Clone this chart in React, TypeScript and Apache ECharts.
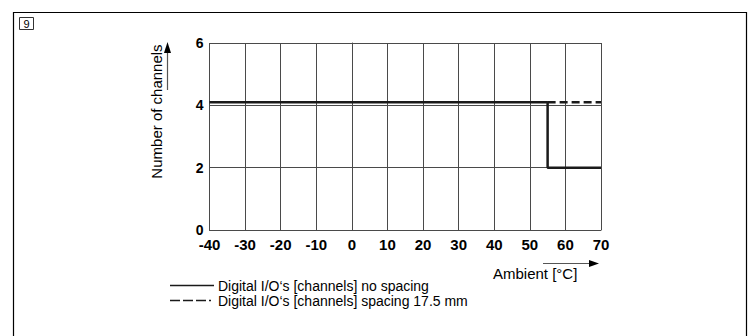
import React, { useEffect, useRef } from "react";
import * as echarts from "echarts";

// Ambient temperature ticks (°C) and channel ticks
const tempTicks = [-40, -30, -20, -10, 0, 10, 20, 30, 40, 50, 60, 70];
const channelTicks = [0, 2, 4, 6];

// Derating curves: [temperature °C, channels]
const noSpacing: [number, number][] = [
  [-40, 4.1],
  [55, 4.1],
  [55, 2],
  [70, 2],
];
const spacing175: [number, number][] = [
  [55, 4.1],
  [70, 4.1],
];

const legendLabels = [
  "Digital I/O‘s [channels] no spacing",
  "Digital I/O‘s [channels] spacing 17.5 mm",
];

const FONT = "'Liberation Sans', Arial, Helvetica, sans-serif";
const INK = "#1a1a1a";
const GRID = "#4a4a4a";

export default function App() {
  const ref = useRef<HTMLDivElement>(null);

  useEffect(() => {
    if (!ref.current) return;
    const chart = echarts.init(ref.current, undefined, { renderer: "svg" });

    const axisText = {
      color: "#000",
      fontFamily: FONT,
      fontWeight: "bold" as const,
    };

    chart.setOption({
      animation: false,
      backgroundColor: "#fff",
      grid: { left: 209.5, top: 43, right: 147, bottom: 106, containLabel: false },
      xAxis: {
        type: "value",
        min: tempTicks[0],
        max: tempTicks[tempTicks.length - 1],
        interval: 10,
        axisLine: { show: true, lineStyle: { color: GRID, width: 1 } },
        axisTick: { show: false },
        splitLine: { show: true, lineStyle: { color: GRID, width: 1 } },
        axisLabel: { ...axisText, fontSize: 15, margin: 7 },
      },
      yAxis: {
        type: "value",
        min: channelTicks[0],
        max: channelTicks[channelTicks.length - 1],
        interval: 2,
        axisLine: { show: true, lineStyle: { color: GRID, width: 1 } },
        axisTick: { show: false },
        splitLine: { show: true, lineStyle: { color: GRID, width: 1 } },
        axisLabel: { ...axisText, fontSize: 14, margin: 6, lineHeight: 13 },
      },
      series: [
        {
          type: "line",
          data: noSpacing,
          symbol: "none",
          lineStyle: { color: INK, width: 2.5 },
          z: 5,
        },
        {
          type: "line",
          data: spacing175,
          symbol: "none",
          lineStyle: { color: INK, width: 2.5, type: [8, 4] },
          z: 4,
        },
      ],
      graphic: [
        // outer frame
        {
          type: "polyline",
          shape: { points: [[13.5, 340], [13.5, 12.5], [746.5, 12.5], [746.5, 340]] },
          style: { stroke: "#000", lineWidth: 1.2, fill: "none" },
        },
        // figure number box
        {
          type: "rect",
          shape: { x: 19.5, y: 17.5, width: 14, height: 12 },
          style: { stroke: "#333", lineWidth: 1, fill: "#fff" },
        },
        {
          type: "text",
          x: 26.5,
          y: 24,
          style: {
            text: "9",
            fontFamily: FONT,
            fontSize: 11,
            fill: "#000",
            align: "center",
            verticalAlign: "middle",
          },
        },
        // y-axis title with arrow
        {
          type: "text",
          x: 156,
          y: 111.5,
          rotation: Math.PI / 2,
          style: {
            text: "Number of channels",
            fontFamily: FONT,
            fontSize: 15,
            fill: "#000",
            align: "center",
            verticalAlign: "middle",
          },
        },
        {
          type: "line",
          shape: { x1: 167.5, y1: 90, x2: 167.5, y2: 52 },
          style: { stroke: "#555", lineWidth: 1.2 },
        },
        {
          type: "polygon",
          shape: { points: [[164, 53], [171, 53], [167.5, 42]] },
          style: { fill: "#000" },
        },
        // x-axis title with arrow
        {
          type: "text",
          x: 493,
          y: 273,
          style: {
            text: "Ambient [°C]",
            fontFamily: FONT,
            fontSize: 15,
            fill: "#000",
            align: "left",
            verticalAlign: "middle",
          },
        },
        {
          type: "line",
          shape: { x1: 543, y1: 263.5, x2: 590, y2: 263.5 },
          style: { stroke: "#555", lineWidth: 1.2 },
        },
        {
          type: "polygon",
          shape: { points: [[589, 260], [589, 267], [599, 263.5]] },
          style: { fill: "#000" },
        },
        // legend
        {
          type: "line",
          shape: { x1: 170, y1: 285.5, x2: 214, y2: 285.5 },
          style: { stroke: INK, lineWidth: 1.6 },
        },
        {
          type: "text",
          x: 218,
          y: 285.5,
          style: {
            text: legendLabels[0],
            fontFamily: FONT,
            fontSize: 14,
            fill: "#000",
            align: "left",
            verticalAlign: "middle",
          },
        },
        {
          type: "line",
          shape: { x1: 170, y1: 300.5, x2: 211, y2: 300.5 },
          style: { stroke: INK, lineWidth: 1.6, lineDash: [10, 3, 10, 3, 10, 3, 2, 3] },
        },
        {
          type: "text",
          x: 218,
          y: 300.5,
          style: {
            text: legendLabels[1],
            fontFamily: FONT,
            fontSize: 14,
            fill: "#000",
            align: "left",
            verticalAlign: "middle",
          },
        },
      ],
    });

    return () => chart.dispose();
  }, []);

  return (
    <div
      ref={ref}
      style={{ position: "fixed", left: 0, top: 0, width: 748, height: 336, background: "#fff" }}
    />
  );
}
